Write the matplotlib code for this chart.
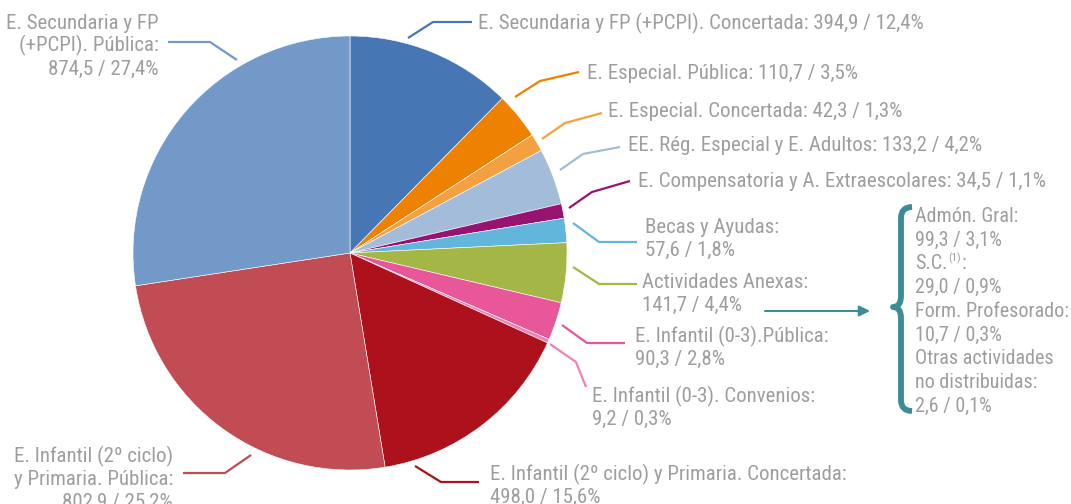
import matplotlib
matplotlib.use("Agg")
import matplotlib.pyplot as plt
from matplotlib.path import Path
from matplotlib.patches import PathPatch

W, H = 1071, 504
FONT = ["Roboto Condensed", "DejaVu Sans"]
TEXT_COLOR = "#9e9e9e"
TEAL = "#3b8c97"

# Budget slices, clockwise from 12 o'clock
categories = [
    "E. Secundaria y FP (+PCPI). Concertada: {}",
    "E. Especial. Pública: {}",
    "E. Especial. Concertada: {}",
    "EE. Rég. Especial y E. Adultos: {}",
    "E. Compensatoria y A. Extraescolares: {}",
    "Becas y Ayudas:\n{}",
    "Actividades Anexas:\n{}",
    "E. Infantil (0-3).Pública:\n{}",
    "E. Infantil (0-3). Convenios:\n{}",
    "E. Infantil (2º ciclo) y Primaria. Concertada:\n{}",
    "E. Infantil (2º ciclo)\ny Primaria. Pública:\n{}",
    "E. Secundaria y FP\n(+PCPI). Pública:\n{}",
]
values = [394.9, 110.7, 42.3, 133.2, 34.5, 57.6, 141.7, 90.3, 9.2, 498.0, 802.9, 874.5]
colors = ["#4677b4", "#ee8100", "#f2a040", "#a3bcd9", "#961372", "#63b6db",
          "#a4b645", "#e8579a", "#f182b4", "#ac111c", "#c14c54", "#7299c7"]

# Breakdown of "Actividades Anexas"
sub_labels = ["Admón. Gral:", "S.C.", "Form. Profesorado:", "Otras actividades\nno distribuidas:"]
sub_values = [99.3, 29.0, 10.7, 2.6]

total = sum(values)


def fmt(v):
    return f"{v:.1f}".replace(".", ",")


def value_text(v):
    return f"{fmt(v)} / {fmt(100 * v / total)}%"


def P(x, y):
    return x, H - y


fig = plt.figure(figsize=(W / 100, H / 100), dpi=100)
ax = fig.add_axes([0, 0, 1, 1])

ax.pie(values, colors=colors, startangle=90, counterclock=False,
       center=P(350, 253), radius=217,
       wedgeprops=dict(edgecolor="white", linewidth=0.4))
ax.set_xlim(0, W)
ax.set_ylim(0, H)
ax.set_aspect("equal")
ax.axis("off")

# label position (x, first baseline), alignment and leader polyline
layout = [
    (478, 29, "left", [(408, 38), (433, 22), (472, 22)]),
    (587, 79, "left", [(515, 97), (540, 81), (579, 72)]),
    (608, 117, "left", [(542, 139), (565, 123), (602, 113)]),
    (628, 151, "left", [(560, 170), (583, 154), (620, 147)]),
    (638, 187, "left", [(569, 208), (592, 192), (630, 181)]),
    (645, 233, "left", [(573, 223), (599, 242), (637, 242)]),
    (642, 288, "left", [(573, 267), (599, 284), (637, 284)]),
    (635, 342, "left", [(562, 325), (587, 343), (625, 343)]),
    (592, 402, "left", [(550, 344), (576, 362), (586, 387)]),
    (490, 480, "left", [(415, 466), (441, 482), (479, 482)]),
    (173, 462, "right", [(251, 455), (225, 473), (183, 473)]),
    (159, 29, "right", [(237, 60), (210, 42), (168, 42)]),
]
LINE = 22.8
FS = 15
SUB_FS = 14.5

for cat, v, col, (x, y, ha, pts) in zip(categories, values, colors, layout):
    lines = cat.format(value_text(v)).split("\n")
    for i, line in enumerate(lines):
        ax.text(*P(x, y + i * LINE), line, ha=ha, va="baseline",
                fontsize=FS, color=TEXT_COLOR, family=FONT)
    xs, ys = zip(*[P(px, py) for px, py in pts])
    ax.plot(xs, ys, color=col, lw=1.6, solid_capstyle="butt")

# arrow towards the breakdown
ax.annotate("", xy=P(870, 311), xytext=P(765, 311),
            arrowprops=dict(arrowstyle="-|>", color=TEAL, lw=1.5,
                            mutation_scale=16, shrinkA=0, shrinkB=0))

# curly brace
verts = [P(912, 207), P(901, 207), P(901, 218),
         P(901, 296),
         P(901, 307), P(893, 307),
         P(901, 307), P(901, 318),
         P(901, 400),
         P(901, 411), P(912, 411)]
codes = [Path.MOVETO, Path.CURVE3, Path.CURVE3,
         Path.LINETO,
         Path.CURVE3, Path.CURVE3,
         Path.CURVE3, Path.CURVE3,
         Path.LINETO,
         Path.CURVE3, Path.CURVE3]
ax.add_patch(PathPatch(Path(verts, codes), facecolor="none", edgecolor=TEAL,
                       lw=4.2, capstyle="butt", joinstyle="round"))

# breakdown text
fig.canvas.draw()
renderer = fig.canvas.get_renderer()
bx, by = 915, 222
SUB_LINE = 23.7
row = 0
for lab, v in zip(sub_labels, sub_values):
    lab_lines = lab.split("\n")
    for j, line in enumerate(lab_lines):
        t = ax.text(*P(bx, by + row * SUB_LINE), line, ha="left", va="baseline",
                    fontsize=SUB_FS, color=TEXT_COLOR, family=FONT)
        if lab == "S.C.":
            bb = t.get_window_extent(renderer)
            s = ax.text(bb.x1 + 1, H - (by + row * SUB_LINE) + 8, "(1)", ha="left",
                        va="baseline", fontsize=8, color=TEXT_COLOR, family=FONT)
            bb2 = s.get_window_extent(renderer)
            ax.text(bb2.x1 + 1, H - (by + row * SUB_LINE), ":", ha="left",
                    va="baseline", fontsize=SUB_FS, color=TEXT_COLOR, family=FONT)
        row += 1
    ax.text(*P(bx, by + row * SUB_LINE), value_text(v), ha="left", va="baseline",
            fontsize=SUB_FS, color=TEXT_COLOR, family=FONT)
    row += 1

fig.savefig("out.png", dpi=100)
